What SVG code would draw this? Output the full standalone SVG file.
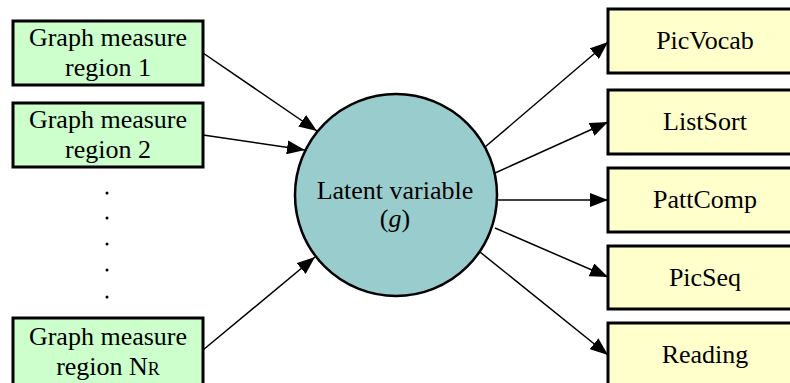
<svg xmlns="http://www.w3.org/2000/svg" width="790" height="383" viewBox="0 0 790 383">
<style>
.t{font-family:"Liberation Serif","Times New Roman",serif;font-size:26px;fill:#000;text-anchor:middle}
.g{fill:#ccffcc;stroke:#000;stroke-width:3}
.y{fill:#ffffcc;stroke:#000;stroke-width:3}
.c{stroke:#000;stroke-width:1.5;fill:none;marker-end:url(#ah)}
</style>
<defs>
<marker id="ah" markerUnits="userSpaceOnUse" markerWidth="20" markerHeight="14" refX="18" refY="7" orient="auto">
<path d="M0,0 L18,7 L0,14 Z" fill="#000"/>
</marker>
</defs>
<rect width="790" height="383" fill="#fff"/>
<g id="connectors">
<line class="c" x1="203" y1="53" x2="317" y2="131"/>
<line class="c" x1="203" y1="135" x2="305" y2="150"/>
<line class="c" x1="203" y1="350" x2="315" y2="257"/>
<line class="c" x1="485" y1="147" x2="608" y2="42"/>
<line class="c" x1="495" y1="173" x2="608" y2="122"/>
<line class="c" x1="497" y1="200" x2="608" y2="200"/>
<line class="c" x1="495" y1="228" x2="608" y2="277"/>
<line class="c" x1="480" y1="252" x2="608" y2="355"/>
</g>
<g id="region1">
<rect class="g" x="13" y="21" width="190" height="64"/>
<text class="t" x="108" y="46">Graph measure</text>
<text class="t" x="108" y="76">region 1</text>
</g>
<g id="region2">
<rect class="g" x="13" y="103" width="190" height="64"/>
<text class="t" x="108" y="128">Graph measure</text>
<text class="t" x="108" y="158">region 2</text>
</g>
<g id="dots" fill="#000">
<circle cx="107" cy="193" r="1.5"/>
<circle cx="107" cy="218" r="1.5"/>
<circle cx="107" cy="244" r="1.5"/>
<circle cx="107" cy="270" r="1.5"/>
<circle cx="107" cy="297" r="1.5"/>
</g>
<g id="regionNR">
<rect class="g" x="13" y="318" width="190" height="70"/>
<text class="t" x="108" y="345">Graph measure</text>
<text class="t" x="108" y="375">region N<tspan font-size="18">R</tspan></text>
</g>
<g id="latent">
<circle cx="396" cy="195" r="101" fill="#99cccc" stroke="#000" stroke-width="2.5"/>
<text class="t" x="395" y="199">Latent variable</text>
<text class="t" x="395" y="227">(<tspan font-style="italic">g</tspan>)</text>
</g>
<g id="picvocab">
<rect class="y" x="608" y="9" width="200" height="64"/>
<text class="t" x="705" y="49">PicVocab</text>
</g>
<g id="listsort">
<rect class="y" x="608" y="90" width="200" height="64"/>
<text class="t" x="705" y="130">ListSort</text>
</g>
<g id="pattcomp">
<rect class="y" x="608" y="168" width="200" height="64"/>
<text class="t" x="705" y="208">PattComp</text>
</g>
<g id="picseq">
<rect class="y" x="608" y="246" width="200" height="63"/>
<text class="t" x="705" y="286">PicSeq</text>
</g>
<g id="reading">
<rect class="y" x="608" y="323" width="200" height="70"/>
<text class="t" x="705" y="363">Reading</text>
</g>
</svg>
